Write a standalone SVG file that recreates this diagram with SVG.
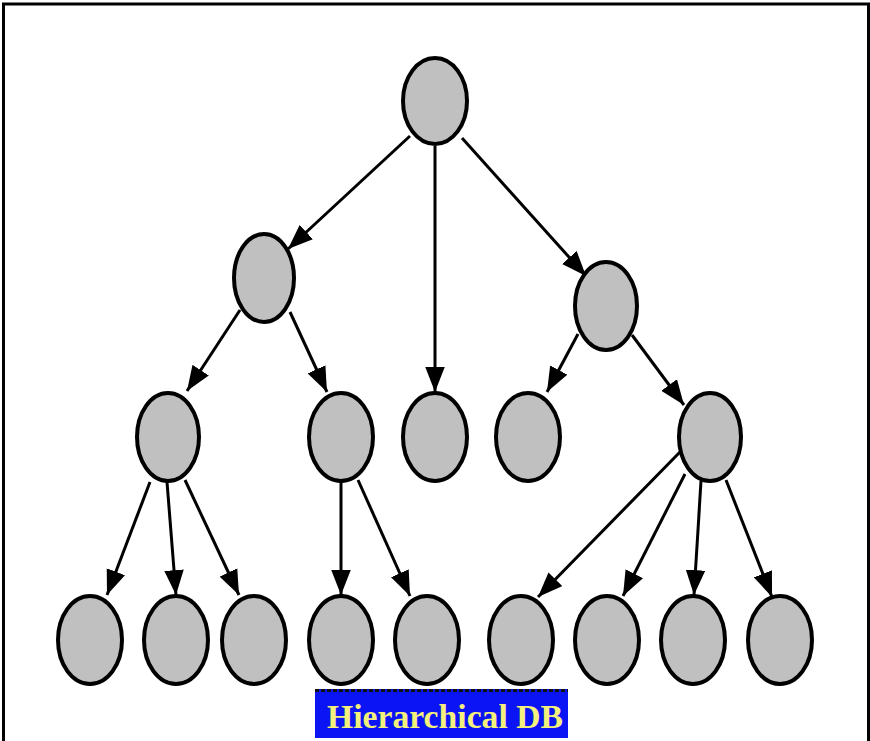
<svg xmlns="http://www.w3.org/2000/svg" width="870" height="741" viewBox="0 0 870 741">
<style>
.node ellipse{fill:#c0c0c0;stroke:#000;stroke-width:4}
.edges line{stroke:#000;stroke-width:3;marker-end:url(#ah)}
.frame{fill:none;stroke:#000;stroke-width:3}
.lbl{font-family:"Liberation Serif","Times New Roman",serif;font-weight:bold;font-size:34px;fill:#f4f07c}
</style>
<defs>
<marker id="ah" markerUnits="userSpaceOnUse" markerWidth="26" markerHeight="20" refX="23" refY="9" orient="auto" viewBox="0 0 24 18">
<path d="M0,0 L23,9 L0,18 Z" fill="#000"/>
</marker>
</defs>
<rect width="870" height="741" fill="#fff"/>
<path class="frame" d="M3.5,741 V4 H868.5 V741"/>
<g class="edges">
<line x1="410" y1="136" x2="288" y2="249"/>
<line x1="435" y1="146" x2="435" y2="392"/>
<line x1="462" y1="138" x2="586" y2="276"/>
<line x1="240" y1="310" x2="187" y2="391"/>
<line x1="290" y1="312" x2="327" y2="392"/>
<line x1="578" y1="334" x2="547" y2="392"/>
<line x1="632" y1="335" x2="684" y2="405"/>
<line x1="150" y1="482" x2="107" y2="595"/>
<line x1="167" y1="482" x2="176" y2="595"/>
<line x1="185" y1="480" x2="239" y2="595"/>
<line x1="341" y1="481" x2="341" y2="595"/>
<line x1="358" y1="480" x2="410" y2="596"/>
<line x1="680" y1="452" x2="538" y2="597"/>
<line x1="685" y1="474" x2="623" y2="596"/>
<line x1="701" y1="481" x2="694" y2="595"/>
<line x1="726" y1="480" x2="772" y2="597"/>
</g>
<g id="n-root" class="node"><ellipse cx="435" cy="101" rx="32" ry="43"/></g>
<g id="n-l1a" class="node"><ellipse cx="264" cy="278" rx="30" ry="44"/></g>
<g id="n-l1b" class="node"><ellipse cx="606" cy="306" rx="31" ry="44"/></g>
<g id="n-l2a" class="node"><ellipse cx="168" cy="437" rx="31" ry="44"/></g>
<g id="n-l2b" class="node"><ellipse cx="341" cy="437" rx="32" ry="44"/></g>
<g id="n-l2c" class="node"><ellipse cx="435" cy="437" rx="32" ry="44"/></g>
<g id="n-l2d" class="node"><ellipse cx="528" cy="437" rx="32" ry="44"/></g>
<g id="n-l2e" class="node"><ellipse cx="710" cy="437" rx="31" ry="44"/></g>
<g id="n-l3a" class="node"><ellipse cx="90" cy="640" rx="32" ry="44"/></g>
<g id="n-l3b" class="node"><ellipse cx="176" cy="640" rx="32" ry="44"/></g>
<g id="n-l3c" class="node"><ellipse cx="254" cy="640" rx="32" ry="44"/></g>
<g id="n-l3d" class="node"><ellipse cx="341" cy="640" rx="32" ry="44"/></g>
<g id="n-l3e" class="node"><ellipse cx="427" cy="640" rx="32" ry="44"/></g>
<g id="n-l3f" class="node"><ellipse cx="521" cy="640" rx="32" ry="44"/></g>
<g id="n-l3g" class="node"><ellipse cx="607" cy="640" rx="32" ry="44"/></g>
<g id="n-l3h" class="node"><ellipse cx="693" cy="640" rx="32" ry="44"/></g>
<g id="n-l3i" class="node"><ellipse cx="780" cy="640" rx="32" ry="44"/></g>
<g id="label">
<rect x="315" y="689" width="253" height="49" fill="#0a14f5"/>
<line x1="315" y1="690.5" x2="568" y2="690.5" stroke="#111" stroke-width="3" stroke-dasharray="4 2"/>
<text class="lbl" x="327" y="728" textLength="236" lengthAdjust="spacingAndGlyphs">Hierarchical DB</text>
</g>
</svg>
